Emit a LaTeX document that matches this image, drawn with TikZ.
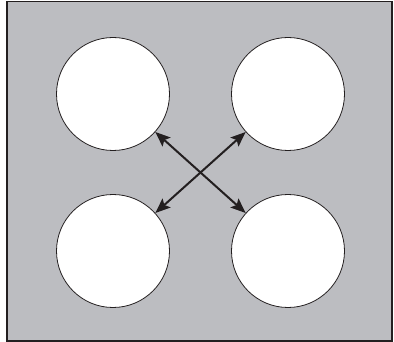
\documentclass[tikz,border=0pt]{standalone}
\usetikzlibrary{arrows.meta}
\definecolor{bgray}{HTML}{BCBDC1}
\definecolor{edge}{HTML}{231F20}
\tikzset{
  hole/.style={circle, draw=edge, fill=white, line width=0.8pt, minimum size=113pt, inner sep=0pt},
  link/.style={draw=edge, line width=2pt, {Stealth[length=15pt,width=12pt,inset=3pt]}-{Stealth[length=15pt,width=12pt,inset=3pt]}}
}
\begin{document}
\begin{tikzpicture}[x=1pt,y=-1pt]
\useasboundingbox (0,0) rectangle (394,342);
\draw[fill=bgray, draw=edge, line width=1.2pt] (7,1.5) rectangle (392,341);
\node[hole] (tl) at (113,94) {};
\node[hole] (tr) at (288,94) {};
\node[hole] (bl) at (113,251) {};
\node[hole] (br) at (288,251) {};
\draw[link] (tl) -- (br);
\draw[link] (tr) -- (bl);
\end{tikzpicture}
\end{document}
